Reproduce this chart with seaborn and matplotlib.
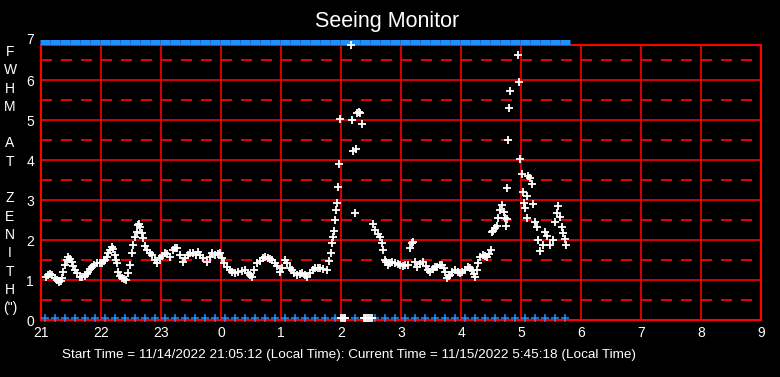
import numpy as np
import pandas as pd
import matplotlib
matplotlib.use("Agg")
import matplotlib.pyplot as plt
import seaborn as sns

# --- data ---
# minutes after 21:00 local time, FWHM at zenith in arcsec
fwhm_min = [5, 7, 9, 11, 14, 16, 18, 20, 21, 22, 24, 26, 27, 29, 31, 32, 34, 36, 39, 41,
            44, 46, 47, 49, 51, 53, 56, 59, 61, 63, 64, 66, 67, 69, 71, 72, 74, 75, 76, 77,
            79, 81, 83, 85, 87, 89, 91, 92, 94, 96, 97, 98, 99, 101, 102, 104, 106, 109, 111, 114,
            116, 119, 121, 124, 126, 129, 132, 134, 136, 139, 142, 144, 147, 149, 152, 155, 157, 159, 162, 166,
            169, 171, 174, 177, 179, 181, 183, 186, 189, 191, 194, 197, 201, 204, 207, 209, 211, 213, 216, 219,
            222, 224, 227, 229, 231, 234, 236, 239, 241, 244, 246, 249, 251, 253, 256, 259, 261, 264, 266, 269,
            272, 274, 277, 279, 282, 286, 288, 290, 291, 292, 293, 294, 295, 296, 297, 298, 299, 300, 302, 304,
            310, 311, 312, 314, 315, 316, 318, 319, 321, 323, 325, 327, 329, 331, 332, 334, 337, 339, 341, 342,
            344, 345, 347, 349, 351, 354, 357, 359, 362, 364, 367, 369, 371, 372, 374, 376, 379, 382, 385, 387,
            389, 392, 394, 396, 399, 401, 403, 404, 406, 408, 409, 411, 414, 417, 419, 421, 424, 427, 429, 431,
            433, 434, 436, 437, 439, 442, 444, 446, 448, 450, 451, 452, 454, 456, 457, 459, 461, 463, 464, 465,
            466, 466, 467, 468, 469, 477, 478, 479, 481, 482, 483, 484, 486, 486, 487, 489, 491, 492, 494, 496,
            497, 499, 502, 504, 506, 509, 512, 514, 516, 517, 519, 521, 522, 524, 525]
fwhm_val = [1.08, 1.12, 1.15, 1.12, 1.05, 1.00, 0.95, 0.98, 1.05, 1.20, 1.37, 1.50, 1.58, 1.52, 1.45, 1.35, 1.25, 1.17, 1.08, 1.07,
            1.10, 1.15, 1.20, 1.27, 1.33, 1.38, 1.42, 1.42, 1.42, 1.47, 1.50, 1.58, 1.67, 1.75, 1.83, 1.78, 1.62, 1.50, 1.42, 1.20,
            1.10, 1.05, 1.02, 1.00, 1.17, 1.37, 1.67, 1.87, 2.08, 2.20, 2.37, 2.40, 2.33, 2.17, 2.05, 1.85, 1.75, 1.68, 1.62, 1.50,
            1.42, 1.55, 1.60, 1.67, 1.65, 1.58, 1.75, 1.80, 1.80, 1.62, 1.45, 1.55, 1.62, 1.68, 1.67, 1.62, 1.70, 1.62, 1.55, 1.45,
            1.58, 1.67, 1.62, 1.65, 1.67, 1.55, 1.42, 1.33, 1.25, 1.20, 1.17, 1.20, 1.22, 1.25, 1.17, 1.12, 1.08, 1.25, 1.42, 1.48,
            1.55, 1.58, 1.55, 1.52, 1.50, 1.42, 1.35, 1.20, 1.30, 1.50, 1.42, 1.30, 1.25, 1.17, 1.12, 1.15, 1.17, 1.12, 1.08, 1.17,
            1.25, 1.30, 1.30, 1.30, 1.28, 1.25, 1.47, 1.67, 1.92, 2.08, 2.22, 2.50, 2.75, 2.92, 3.32, 3.90, 5.02, 0.05, 0.05, 0.05,
            6.88, 5.00, 4.22, 2.67, 4.27, 5.17, 5.20, 5.17, 4.90, 0.05, 0.05, 0.05, 0.05, 0.05, 2.40, 2.25, 2.15, 2.08, 1.92, 1.75,
            1.50, 1.45, 1.37, 1.42, 1.45, 1.42, 1.40, 1.38, 1.35, 1.38, 1.37, 1.80, 1.92, 1.95, 1.45, 1.33, 1.40, 1.45, 1.35, 1.25,
            1.20, 1.28, 1.32, 1.33, 1.38, 1.37, 1.30, 1.20, 1.05, 1.10, 1.12, 1.20, 1.25, 1.20, 1.17, 1.20, 1.25, 1.33, 1.30, 1.25,
            1.15, 1.08, 1.25, 1.42, 1.58, 1.62, 1.60, 1.58, 1.65, 1.75, 2.20, 2.22, 2.30, 2.35, 2.55, 2.75, 2.87, 2.70, 2.55, 2.35,
            2.52, 3.30, 4.50, 5.30, 5.72, 6.62, 5.95, 4.02, 3.65, 3.20, 2.92, 2.80, 2.55, 3.10, 3.60, 3.55, 3.40, 2.90, 2.45, 2.33,
            2.00, 1.72, 1.87, 2.20, 2.10, 1.87, 2.00, 2.45, 2.67, 2.85, 2.58, 2.33, 2.17, 2.02, 1.87]

# status markers every 10 minutes (drawn on the top and bottom edges)
status_min = [4, 14, 24, 34, 44, 54, 64, 74, 84, 94, 104, 114, 124, 134, 144, 154, 164, 174,
              184, 194, 204, 214, 224, 234, 244, 254, 264, 274, 284, 294, 304, 314, 324, 334,
              344, 354, 364, 374, 384, 394, 404, 414, 424, 434, 444, 454, 464, 474, 484, 494,
              504, 514, 524]

hour_labels = ["21", "22", "23", "0", "1", "2", "3", "4", "5", "6", "7", "8", "9"]
y_labels = ["0", "1", "2", "3", "4", "5", "6", "7"]
ylabel_lines = ["F", "W", "H", "M", "", "A", "T", "", "Z", "E", "N", "I", "T", "H", "(\")"]

title = "Seeing Monitor"
footer = ("Start Time = 11/14/2022 21:05:12 (Local Time): "
          "Current Time = 11/15/2022 5:45:18 (Local Time)")

W, H = 780, 377
BLUE = "#1E90FF"
FS = 10

df = pd.DataFrame({"hour": np.array(fwhm_min) / 60.0, "fwhm": fwhm_val})
st = pd.DataFrame({"hour": np.array(status_min) / 60.0})

sns.set_style("dark", {"axes.facecolor": "black", "figure.facecolor": "black"})
plt.rcParams["font.family"] = ["Liberation Sans", "DejaVu Sans"]
plt.rcParams["lines.scale_dashes"] = False

fig = plt.figure(figsize=(W / 100, H / 100), dpi=100, facecolor="black")
ax = fig.add_axes([41 / W, 1 - 320 / H, 720 / W, 275 / H])
ax.set_facecolor("black")

# grid: solid at hours / integers, dashed at half values
for h in range(1, 12):
    ax.axvline(h, color="red", lw=1.2, zorder=1)
for v in range(1, 7):
    ax.axhline(v, color="red", lw=1.2, zorder=1)
for v in np.arange(0.5, 7, 1.0):
    ax.axhline(v, color="red", lw=1.3, ls=(0, (7.9, 6.5)), zorder=1)

# status markers
sns.scatterplot(x=st["hour"], y=np.full(len(st), 6.94), marker="_", color=BLUE,
                s=7.0 ** 2, linewidth=3.6, ax=ax, zorder=4, clip_on=False)
sns.scatterplot(x=st["hour"], y=np.full(len(st), 0.05), marker="+", color=BLUE,
                s=26, linewidth=1.1, ax=ax, zorder=4, clip_on=False)

# measurements
sns.scatterplot(data=df, x="hour", y="fwhm", marker="+", color="white",
                s=32, linewidth=1.3, ax=ax, zorder=5, clip_on=False)

ax.set_xlim(0, 12)
ax.set_ylim(0, 6.875)
ax.set_xticks(range(13))
ax.set_xticklabels(hour_labels)
ax.set_yticks(range(7))
ax.set_yticklabels(y_labels[:7])
ax.tick_params(length=0, colors="white", labelsize=FS)
ax.tick_params(axis="x", pad=4)
ax.tick_params(axis="y", pad=5)
ax.set_xlabel("")
ax.set_ylabel("")
ax.annotate(y_labels[7], xy=(0, 7), xycoords=("axes fraction", "data"),
            xytext=(-5, 0), textcoords="offset points", ha="right", va="center",
            color="white", fontsize=FS, annotation_clip=False)
for s in ax.spines.values():
    s.set_color("red")
    s.set_linewidth(1.5)
    s.set_visible(True)

fig.text(0.496, 1 - 21.5 / H, title, ha="center", va="center", color="white", fontsize=15.5)
for i, ch in enumerate(ylabel_lines):
    if ch:
        fig.text(10 / W, 1 - (52 + 18.3 * i) / H, ch, ha="center", va="center",
                 color="white", fontsize=FS)
fig.text(62 / W, 1 - 355 / H, footer, ha="left", va="center", color="white", fontsize=9.7)

fig.savefig("out.png", dpi=100, facecolor="black")
plt.close()
